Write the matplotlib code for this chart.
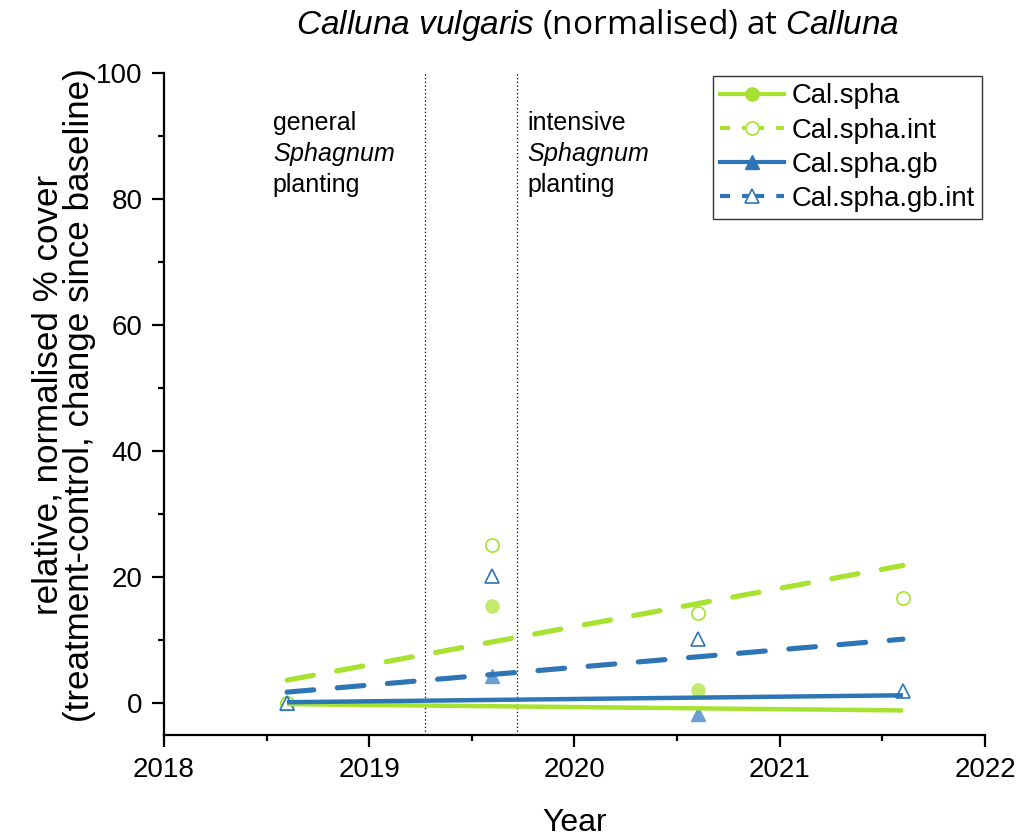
import matplotlib
matplotlib.use("Agg")
import matplotlib.pyplot as plt
from matplotlib.lines import Line2D
from matplotlib.ticker import MultipleLocator

# ---------------- data ----------------
years = [2018.6, 2019.6, 2020.6, 2021.6]

spha_pts = [0.0, 15.4, 2.1]                 # Cal.spha (filled circle)
spha_int_pts = [0.0, 25.1, 14.4, 16.7]      # Cal.spha.int (open circle)
gb_pts = [0.0, 4.4, -1.7]                   # Cal.spha.gb (filled triangle)
gb_int_pts = [0.0, 20.2, 10.3, 2.0]         # Cal.spha.gb.int (open triangle)

fit_x = [2018.6, 2021.6]
spha_fit = [-0.1, -1.1]
spha_int_fit = [3.7, 21.9]
gb_fit = [0.2, 1.3]
gb_int_fit = [1.8, 10.2]

event_x = [2019.27, 2019.72]
event_labels = ["general\n$\\it{Sphagnum}$\nplanting",
                "intensive\n$\\it{Sphagnum}$\nplanting"]

series_names = ["Cal.spha", "Cal.spha.int", "Cal.spha.gb", "Cal.spha.gb.int"]

# ---------------- style ----------------
GREEN = "#a6e22f"
GREEN_FILL = "#c4ea6e"
BLUE = "#2e75b6"
BLUE_FILL = "#6b9fd1"

plt.rcParams["font.family"] = ["Liberation Sans", "DejaVu Sans"]
plt.rcParams["mathtext.fontset"] = "custom"
plt.rcParams["mathtext.it"] = "Liberation Sans:italic"
plt.rcParams["mathtext.rm"] = "Liberation Sans"

fig = plt.figure(figsize=(10.18, 8.36), dpi=100)
ax = fig.add_axes([0.161, 0.1208, 0.8066, 0.7919])

# markers (below lines)
ax.plot(years[:len(spha_pts)], spha_pts, ls="none", marker="o", ms=9.5,
        mfc=GREEN_FILL, mec=GREEN_FILL, zorder=2)
ax.plot(years[:len(spha_int_pts)], spha_int_pts, ls="none", marker="o", ms=9.5,
        mfc="white", mec=GREEN, mew=1.2, zorder=2)
ax.plot(years[:len(gb_pts)], gb_pts, ls="none", marker="^", ms=10.5,
        mfc=BLUE_FILL, mec=BLUE_FILL, zorder=2)
ax.plot(years[:len(gb_int_pts)], gb_int_pts, ls="none", marker="^", ms=10.5,
        mfc="white", mec=BLUE, mew=1.2, zorder=2)

# fitted lines
dash = (5.2, 4.6)
ax.plot(fit_x, spha_fit, color=GREEN, lw=3.2, zorder=3, solid_capstyle="butt")
ax.plot(fit_x, gb_fit, color=BLUE, lw=3.2, zorder=3, solid_capstyle="butt")
ax.plot(fit_x, spha_int_fit, color=GREEN, lw=3.7, dashes=dash, zorder=3,
        dash_capstyle="round")
ax.plot(fit_x, gb_int_fit, color=BLUE, lw=3.7, dashes=dash, zorder=3,
        dash_capstyle="round")

# event lines and labels
for xv in event_x:
    ax.axvline(xv, color="black", lw=0.9, ls=(0, (1, 2)), zorder=1)
ax.text(2018.53, 94.0, event_labels[0], fontsize=18, va="top", ha="left",
        linespacing=1.25)
ax.text(2019.77, 94.0, event_labels[1], fontsize=18, va="top", ha="left",
        linespacing=1.25)

# axes
ax.set_xlim(2018, 2022)
ax.set_ylim(-5, 100)
ax.xaxis.set_major_locator(MultipleLocator(1))
ax.xaxis.set_minor_locator(MultipleLocator(0.5))
ax.yaxis.set_major_locator(MultipleLocator(20))
ax.yaxis.set_minor_locator(MultipleLocator(10))
ax.spines["top"].set_visible(False)
ax.spines["right"].set_visible(False)
ax.spines["left"].set_linewidth(1.6)
ax.spines["bottom"].set_linewidth(1.6)
ax.tick_params(which="major", direction="out", length=8.5, width=1.6,
               labelsize=20, pad=7)
ax.tick_params(which="minor", direction="out", length=4.5, width=1.6)
ax.set_xticks([2018, 2019, 2020, 2021, 2022])
ax.set_yticks([0, 20, 40, 60, 80, 100])

ax.set_xlabel("Year", fontsize=23, labelpad=18)
ax.set_ylabel("relative, normalised % cover\n(treatment-control, change since baseline)",
              fontsize=25.2, linespacing=0.95, labelpad=0)
ax.yaxis.set_label_coords(-0.083, 0.513)

fig.text(598 / 1018, 1 - 25 / 836,
         "$\\it{Calluna\\ vulgaris}$ (normalised) at $\\it{Calluna}$",
         fontsize=24, ha="center", va="center",
         family=["Open Sans", "DejaVu Sans"])

# legend
handles = [
    Line2D([], [], color=GREEN, lw=3.0, marker="o", ms=9.5, mfc=GREEN, mec=GREEN),
    Line2D([], [], color=GREEN, lw=3.0, dashes=(2.4, 2.9, 5.3, 2.9), marker="o",
           ms=9.5, mfc="white", mec=GREEN, mew=1.2),
    Line2D([], [], color=BLUE, lw=3.0, marker="^", ms=10.5, mfc=BLUE, mec=BLUE),
    Line2D([], [], color=BLUE, lw=3.0, dashes=(2.4, 2.9, 5.3, 2.9), marker="^",
           ms=10.5, mfc="white", mec=BLUE, mew=1.2),
]
leg = ax.legend(handles, series_names, loc="upper right",
                bbox_to_anchor=(1.003, 1.003), fontsize=19.8, frameon=True,
                fancybox=False, edgecolor="black", handlelength=2.3,
                handletextpad=0.3, borderpad=0.25, labelspacing=0.3,
                borderaxespad=0.2)
leg.get_frame().set_linewidth(1.0)

fig.savefig("out.png", dpi=100)
